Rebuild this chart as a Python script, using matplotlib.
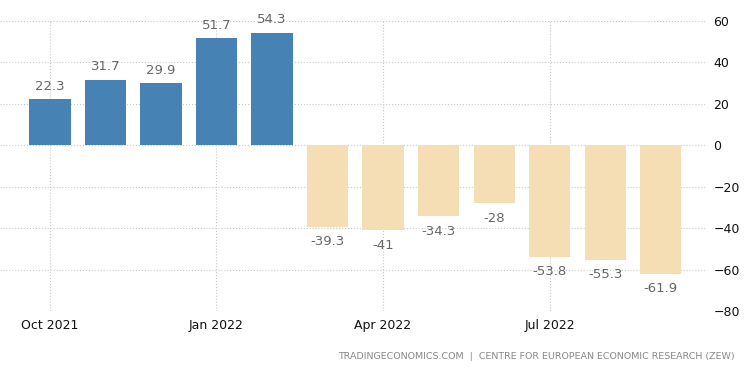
import numpy as np
import matplotlib.pyplot as plt

months = ["Oct 2021", "Nov 2021", "Dec 2021", "Jan 2022", "Feb 2022", "Mar 2022",
          "Apr 2022", "May 2022", "Jun 2022", "Jul 2022", "Aug 2022", "Sep 2022"]
values = [22.3, 31.7, 29.9, 51.7, 54.3, -39.3, -41, -34.3, -28, -53.8, -55.3, -61.9]
labels = ["22.3", "31.7", "29.9", "51.7", "54.3", "-39.3", "-41", "-34.3", "-28",
          "-53.8", "-55.3", "-61.9"]
tick_months = ["Oct 2021", "Jan 2022", "Apr 2022", "Jul 2022"]

x = np.arange(len(months))
colors = ["#4682b4" if v >= 0 else "#f5deb3" for v in values]

fig = plt.figure(figsize=(7.5, 3.73), dpi=100)
ax = fig.add_axes([0.0, 0.166, 0.94, 0.778])
ax.bar(x, values, width=0.74, color=colors, zorder=2)

for xi, v, lab in zip(x, values, labels):
    if v >= 0:
        ax.text(xi, v + 3, lab, ha="center", va="bottom", color="#666666", fontsize=9.5)
    else:
        ax.text(xi, v - 4, lab, ha="center", va="top", color="#666666", fontsize=9.5)

ax.set_xlim(-0.9, 11.8)
ax.set_ylim(-80, 60)
ax.set_yticks(np.arange(-80, 61, 20))
ax.yaxis.tick_right()
ax.set_xticks([months.index(m) for m in tick_months])
ax.set_xticklabels(tick_months)
ax.tick_params(axis="both", length=0, labelsize=9, colors="#111111")
ax.tick_params(axis="y", pad=6)
ax.tick_params(axis="x", pad=6)
ax.grid(True, linestyle=":", color="#c8c8c8", linewidth=0.8, zorder=0)
for s in ax.spines.values():
    s.set_visible(False)

fig.text(0.98, 0.045, "TRADINGECONOMICS.COM  |  CENTRE FOR EUROPEAN ECONOMIC RESEARCH (ZEW)",
         ha="right", va="center", fontsize=6.8, color="#888888")

fig.savefig("out.png", dpi=100)
